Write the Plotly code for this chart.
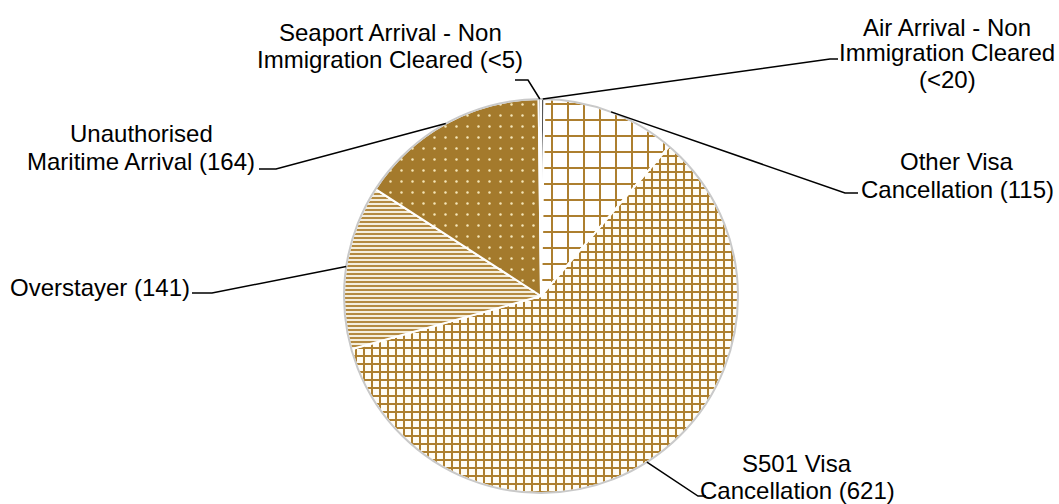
import math
import plotly.graph_objects as go

# ---- data ----
categories = [
    "Air Arrival - Non Immigration Cleared (<20)",
    "Other Visa Cancellation (115)",
    "S501 Visa Cancellation (621)",
    "Overstayer (141)",
    "Unauthorised Maritime Arrival (164)",
    "Seaport Arrival - Non Immigration Cleared (<5)",
]
values = [3, 115, 621, 141, 164, 2]
label_lines = [
    ["Air Arrival - Non", "Immigration Cleared", "(<20)"],
    ["Other Visa", "Cancellation (115)"],
    ["S501 Visa", "Cancellation (621)"],
    ["Overstayer (141)"],
    ["Unauthorised", "Maritime Arrival (164)"],
    ["Seaport Arrival - Non", "Immigration Cleared (<5)"],
]

# ---- styles / layout (page pixels) ----
W, H = 1059, 504
CX, CY, R = 541, 296, 197
GOLD = "#AD7F2F"
DARK = "#A47A2C"
pat_shape = ["", "+", "+", "-", ".", ""]
pat_fg = ["#555555", GOLD, GOLD, GOLD, "#F6E7B8", "#555555"]
pat_bg = ["#555555", "#FFFFFF", "#FFFDF6", "#F4EEDD", DARK, "#555555"]
pat_size = [8, 16, 8, 4, 11, 8]
pat_sol = [0.3, 0.234, 0.44, 0.45, 0.04, 0.3]

# label placement: text centre x, line ys, horizontal leader segment (x_text_side, x_elbow, y)
label_pos = [
    (947, [27, 53, 79], (838, 830, 59)),
    (957, [161, 189], (858, 845, 193)),
    (797, [463, 490], (706, 698, 496)),
    (100, [287], (192, 212, 293)),
    (141, [134, 162], (259, 276, 169)),
    (390, [32, 59], (515, 528, 80)),
]


def px(x):
    return x / W


def py(y):
    return 1 - y / H


fig = go.Figure()
fig.add_trace(go.Pie(
    labels=categories,
    values=values,
    sort=False,
    direction="clockwise",
    rotation=0,
    textinfo="none",
    hoverinfo="label+value",
    showlegend=False,
    marker=dict(
        colors=pat_bg,
        line=dict(color="#FFFFFF", width=2),
        pattern=dict(shape=pat_shape, fgcolor=pat_fg, bgcolor=pat_bg,
                     size=pat_size, solidity=pat_sol, fillmode="replace"),
    ),
    domain=dict(x=[px(CX - R), px(CX + R)], y=[py(CY + R), py(CY - R)]),
))

shapes = [dict(type="circle", xref="paper", yref="paper",
               x0=px(CX - R), x1=px(CX + R), y0=py(CY + R), y1=py(CY - R),
               line=dict(color="#C9C9C9", width=2))]
total = sum(values)
cum = 0
annotations = []
for v, lines, (tx, ys, (hx0, hx1, hy)) in zip(values, label_lines, label_pos):
    mid = (cum + v / 2) / total * 2 * math.pi
    cum += v
    sx = CX + R * math.sin(mid)
    sy = CY - R * math.cos(mid)
    path = "M {} {} L {} {} L {} {}".format(px(hx0), py(hy), px(hx1), py(hy), px(sx), py(sy))
    shapes.append(dict(type="path", xref="paper", yref="paper", path=path,
                       line=dict(color="black", width=1.5)))
    for t, yy in zip(lines, ys):
        annotations.append(dict(text=t, x=px(tx), y=py(yy), xref="paper", yref="paper",
                                xanchor="center", yanchor="middle", showarrow=False,
                                font=dict(family="Liberation Sans, Arial", size=24, color="black")))

fig.update_layout(
    width=W, height=H,
    margin=dict(l=0, r=0, t=0, b=0),
    paper_bgcolor="white", plot_bgcolor="white",
    shapes=shapes, annotations=annotations,
)
fig.write_html("out.html", config={"displayModeBar": False},
               post_script="document.body.style.margin='0';document.body.style.overflow='hidden';")
